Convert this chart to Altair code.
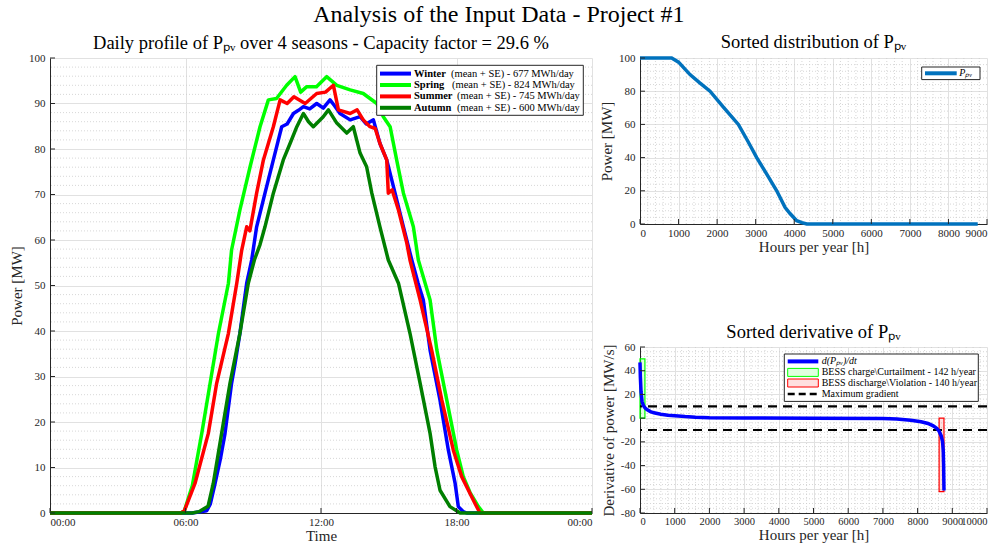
import altair as alt
import pandas as pd

SERIF = "Liberation Serif"
INK = "#262626"
GRID = "#e1e1e1"
MINOR = "#cdcdcd"

# ---------------- data ----------------
seasons = ["Winter", "Spring", "Summer", "Autumn"]
season_colors = ["#0000ff", "#00ff00", "#ff0000", "#007f00"]
season_energy = [677, 824, 745, 600]

winter_t = [0, 6.3, 6.94, 7.1, 7.31, 7.55, 7.75, 8.04, 8.2, 8.41, 8.71, 8.93, 9.15, 9.52, 9.89, 10.26, 10.5,
            10.78, 11.0, 11.22, 11.5, 11.81, 12.1, 12.4, 12.6, 12.84, 13.29, 13.73, 14.0, 14.32, 14.61, 14.91,
            15.28, 15.65, 16.02, 16.3, 16.53, 16.83, 17.27, 17.64, 17.94, 18.08, 18.3, 18.45, 24]
winter_p = [0, 0, 0.5, 2, 6.5, 12, 17.5, 28.5, 33, 39.5, 50.5, 55.6, 62.9, 70.3, 77.6, 84.9, 85.5,
            87.8, 88.5, 89.3, 88.8, 90, 89, 90.8, 89.5, 87.8, 86.4, 87.1, 85.5, 86.4, 81.2, 77.6,
            70.3, 62.9, 55.6, 50.5, 46.8, 35.8, 24.8, 13.8, 6.5, 1.4, 0.3, 0, 0]

spring_t = [0, 5.8, 5.95, 6.3, 6.72, 7.09, 7.46, 7.9, 8.04, 8.41, 8.86, 9.3, 9.67, 10.03, 10.48, 10.85, 11.1,
            11.37, 11.8, 12.25, 12.7, 13.29, 13.87, 14.47, 14.76, 15.06, 15.35, 15.65, 16.09, 16.31, 16.83,
            17.13, 17.57, 18.01, 18.3, 18.6, 18.97, 19.19, 24]
spring_p = [0, 0, 0.5, 6, 17.5, 28.5, 39.5, 50.5, 57.8, 66.6, 76.1, 84.9, 90.8, 91.1, 94, 95.9, 92.5,
            93.7, 93.7, 95.9, 94, 93, 92.2, 90, 87.1, 84.9, 77.6, 70.3, 62.9, 55.6, 46.8,
            35.8, 24.8, 13.8, 8, 4.5, 1.4, 0, 0]

summer_t = [0, 5.8, 5.95, 6.42, 7.01, 7.38, 7.9, 8.27, 8.49, 8.71, 8.85, 9.15, 9.45, 9.89, 10.19, 10.5, 10.8,
            11.3, 11.81, 12.2, 12.55, 12.77, 13.29, 13.6, 13.87, 14.17, 14.4, 14.61, 14.91, 14.98, 15.15,
            15.43, 15.8, 15.94, 16.39, 16.9, 17.35, 17.86, 18.23, 18.82, 19.04, 24]
summer_p = [0, 0, 0.5, 6.5, 17.5, 28.5, 39.5, 50.5, 57.8, 62.9, 62, 70.3, 77.6, 84.9, 90.8, 90, 91.5,
            90, 92.2, 92.5, 94, 88.6, 87.8, 88.6, 86.4, 84.9, 84.5, 81.2, 77.6, 70.3, 71,
            66.6, 59.3, 55.6, 46.8, 35.8, 24.8, 13.8, 8, 2.1, 0, 0]

autumn_t = [0, 6.3, 6.6, 7.0, 7.23, 7.6, 7.97, 8.41, 8.78, 9.05, 9.3, 9.52, 9.89, 10.33, 10.63, 10.93, 11.22,
            11.45, 11.66, 12.1, 12.33, 12.7, 13.14, 13.43, 13.73, 14.02, 14.25, 14.61, 14.98, 15.43, 15.94,
            16.39, 16.83, 17.05, 17.27, 17.71, 18.16, 24]
autumn_p = [0, 0, 0.3, 1.5, 6.5, 17.5, 28.5, 39.5, 50.5, 55.6, 59, 62.9, 70.3, 77.6, 81.2, 84.9, 87.8,
            86, 84.9, 87.1, 88.6, 85.7, 83.5, 84.9, 79.1, 76.1, 70.3, 62.9, 55.6, 50.5, 39.5,
            28.5, 17.5, 10.2, 5, 1.4, 0, 0]

sorted_h = [0, 821, 1000, 1297, 1550, 1816, 2179, 2551, 2794, 3027, 3287, 3546, 3761, 3891, 4064, 4200,
            4324, 4500, 8760]
sorted_p = [100, 100, 97.5, 90, 85, 80, 70, 60, 50, 40, 30, 20, 10, 6.3, 2, 0.8, 0, 0, 0]

deriv_h = [0, 10, 30, 60, 100, 150, 200, 300, 400, 600, 800, 1000, 1300, 1600, 2000, 3000, 5000, 7000,
           7400, 7800, 8100, 8300, 8450, 8550, 8620, 8680, 8720, 8740, 8750, 8760]
deriv_v = [47, 35, 22, 14, 10.5, 8.5, 7.2, 5.5, 4.5, 3.3, 2.5, 2.0, 1.3, 0.8, 0.4, 0.1, 0, -0.3,
           -0.8, -1.8, -3, -4.5, -6.5, -8.5, -11, -15, -20, -28, -40, -61]

bess_names = ["charge", "discharge"]
bess_h0 = [0, 8620]
bess_h1 = [142, 8760]
bess_v0 = [0, -62]
bess_v1 = [50, 0]
bess_hours = [142, 140]
max_gradient = [10, -10]

# ---------------- helpers ----------------
one = pd.DataFrame({"k": [0]})
PLAIN = "'' + datum.value"


def box(x1, x2, y1, y2):
    return alt.Chart(one).mark_rect(fill="white", stroke=INK, strokeWidth=1).encode(
        x=alt.value(x1), x2=alt.value(x2), y=alt.value(y1), y2=alt.value(y2))


def seg(x1, x2, y, color, width=4.0, dash=None):
    kw = {"strokeDash": dash} if dash else {}
    return alt.Chart(one).mark_rule(color=color, strokeWidth=width, **kw).encode(
        x=alt.value(x1), x2=alt.value(x2), y=alt.value(y))


def swatch(x1, x2, y1, y2, stroke, fill):
    return alt.Chart(one).mark_rect(fill=fill, fillOpacity=0.12, stroke=stroke, strokeWidth=1).encode(
        x=alt.value(x1), x2=alt.value(x2), y=alt.value(y1), y2=alt.value(y2))


def txt(x, y, s, size=10.5, weight="normal", style="normal"):
    return alt.Chart(one).mark_text(align="left", baseline="middle", font=SERIF, fontSize=size,
                                    fontWeight=weight, fontStyle=style, color="black").encode(
        x=alt.value(x), y=alt.value(y), text=alt.value(s))


def minor_rules(vals, ch, scale, axis):
    df = pd.DataFrame({"v": vals})
    m = alt.Chart(df).mark_rule(color=MINOR, strokeWidth=0.8, strokeDash=[1, 2])
    if ch == "x":
        return m.encode(x=alt.X("v:Q", scale=scale, axis=axis))
    return m.encode(y=alt.Y("v:Q", scale=scale, axis=axis))


def in_ticks(vals, ch, scale, axis, h, L=5):
    df = pd.DataFrame({"v": vals})
    m = alt.Chart(df).mark_rule(color=INK, strokeWidth=1)
    if ch == "x":
        return m.encode(x=alt.X("v:Q", scale=scale, axis=axis), y=alt.value(h), y2=alt.value(h - L))
    return m.encode(y=alt.Y("v:Q", scale=scale, axis=axis), x=alt.value(0), x2=alt.value(L))


PPV = "Pₚᵥ"
SUB = 18.5

# ---------------- left: daily profile ----------------
LW, LH = 542, 455
rows = []
for name, ts, ps in [("Winter", winter_t, winter_p), ("Spring", spring_t, spring_p),
                     ("Summer", summer_t, summer_p), ("Autumn", autumn_t, autumn_p)]:
    for t, p in zip(ts, ps):
        rows.append({"season": name, "t": t, "P": p})
prof = pd.DataFrame(rows)

xs_l = alt.Scale(domain=[0, 24], nice=False, zero=False)
ys_l = alt.Scale(domain=[0, 100], nice=False)
ax_lx = alt.Axis(values=[0, 6, 12, 18, 24], title="Time", titleFontSize=15,
                 labelExpr="datum.value == 24 ? '00:00' : ((datum.value < 10 ? '0' : '') + datum.value + ':00')")
ax_ly = alt.Axis(values=list(range(0, 101, 10)), title="Power [MW]", titleFontSize=15, labelExpr=PLAIN)

lines_l = alt.Chart(prof).mark_line(strokeWidth=3.5, strokeJoin="round").encode(
    x=alt.X("t:Q", scale=xs_l, axis=ax_lx),
    y=alt.Y("P:Q", scale=ys_l, axis=ax_ly),
    color=alt.Color("season:N", scale=alt.Scale(domain=seasons, range=season_colors), legend=None),
)

leg_l = [box(326.7, 533.3, 7.3, 57.3)]
row_y = [15.6, 27.0, 38.4, 49.8]
rest_x = [401, 402, 407, 407]
for i, (s, c, e) in enumerate(zip(seasons, season_colors, season_energy)):
    leg_l.append(seg(330, 361, row_y[i], c, 4))
    leg_l.append(txt(364, row_y[i], s, weight="bold"))
    leg_l.append(txt(rest_x[i], row_y[i], f"(mean + SE) - {e} MWh/day"))

left = alt.layer(
    minor_rules([v for v in range(2, 100, 2) if v % 10], "y", ys_l, ax_ly),
    lines_l,
    in_ticks([0, 6, 12, 18, 24], "x", xs_l, ax_lx, LH),
    in_ticks(list(range(0, 101, 10)), "y", ys_l, ax_ly, LH),
    *leg_l,
).properties(width=LW, height=LH,
             title=alt.TitleParams(f"Daily profile of {PPV} over 4 seasons - Capacity factor = 29.6 %",
                                   fontSize=SUB, offset=0))

# ---------------- top right: sorted distribution ----------------
RW, RH = 347, 166
sdf = pd.DataFrame({"h": sorted_h, "P": sorted_p})
xs_t = alt.Scale(domain=[0, 9000], nice=False)
ys_t = alt.Scale(domain=[0, 100], nice=False)
ax_tx = alt.Axis(values=list(range(0, 9001, 1000)), title="Hours per year [h]", titleFontSize=15, labelExpr=PLAIN)
ax_ty = alt.Axis(values=list(range(0, 101, 20)), title="Power [MW]", titleFontSize=15, labelExpr=PLAIN)
line_t = alt.Chart(sdf).mark_line(color="#0072bd", strokeWidth=3.5).encode(
    x=alt.X("h:Q", scale=xs_t, axis=ax_tx),
    y=alt.Y("P:Q", scale=ys_t, axis=ax_ty),
)
top = alt.layer(
    minor_rules([v for v in range(200, 9000, 200) if v % 1000], "x", xs_t, ax_tx),
    minor_rules([v for v in range(4, 100, 4) if v % 20], "y", ys_t, ax_ty),
    line_t,
    in_ticks(list(range(0, 9001, 1000)), "x", xs_t, ax_tx, RH),
    in_ticks(list(range(0, 101, 20)), "y", ys_t, ax_ty, RH),
    box(281.7, 340, 9, 21.6),
    seg(285, 316.7, 15.3, "#0072bd", 4),
    txt(319.3, 15.3, PPV, size=10, style="italic"),
).properties(width=RW, height=RH,
             title=alt.TitleParams(f"Sorted distribution of {PPV}", fontSize=SUB, offset=0))

# ---------------- bottom right: sorted derivative ----------------
ddf = pd.DataFrame({"h": deriv_h, "v": deriv_v})
rdf = pd.DataFrame({"name": bess_names, "h0": bess_h0, "h1": bess_h1, "v0": bess_v0, "v1": bess_v1})
gdf = pd.DataFrame({"g": max_gradient})
xs_b = alt.Scale(domain=[0, 10000], nice=False)
ys_b = alt.Scale(domain=[-80, 60], nice=False)
ax_bx = alt.Axis(values=list(range(0, 10001, 1000)), title="Hours per year [h]", titleFontSize=15,
                 labelExpr=PLAIN, labelFontSize=10.5)
ax_by = alt.Axis(values=list(range(-80, 61, 20)), title="Derivative of power [MW/s]", titleFontSize=15,
                 labelExpr=PLAIN)

line_b = alt.Chart(ddf).mark_line(color="#0000ff", strokeWidth=3.5).encode(
    x=alt.X("h:Q", scale=xs_b, axis=ax_bx),
    y=alt.Y("v:Q", scale=ys_b, axis=ax_by),
)
rects_b = alt.Chart(rdf).mark_rect(strokeWidth=1.2, fillOpacity=0.12).encode(
    x=alt.X("h0:Q", scale=xs_b, axis=ax_bx), x2="h1:Q",
    y=alt.Y("v0:Q", scale=ys_b, axis=ax_by), y2="v1:Q",
    stroke=alt.Stroke("name:N", scale=alt.Scale(domain=bess_names, range=["#00ff00", "#ff0000"]), legend=None),
    fill=alt.Fill("name:N", scale=alt.Scale(domain=bess_names, range=["#00ff00", "#ff0000"]), legend=None),
)
dash_b = alt.Chart(gdf).mark_rule(color="black", strokeWidth=2.2, strokeDash=[9, 6]).encode(
    y=alt.Y("g:Q", scale=ys_b, axis=ax_by))

bottom = alt.layer(
    minor_rules([v for v in range(200, 10000, 200) if v % 1000], "x", xs_b, ax_bx),
    minor_rules([v for v in range(-76, 60, 4) if v % 20], "y", ys_b, ax_by),
    rects_b,
    dash_b,
    line_b,
    in_ticks(list(range(0, 10001, 1000)), "x", xs_b, ax_bx, RH),
    in_ticks(list(range(-80, 61, 20)), "y", ys_b, ax_by, RH),
    box(144.3, 338.3, 7, 54.4),
    seg(147.7, 178.3, 14.4, "#0000ff", 4),
    txt(181.7, 14.4, f"d({PPV})/dt", size=10, style="italic"),
    swatch(147.7, 178.3, 21.4, 29.4, "#00ff00", "#00ff00"),
    txt(181.7, 25.4, f"BESS charge\\Curtailment - {bess_hours[0]} h/year", size=10),
    swatch(147.7, 178.3, 32, 40, "#ff0000", "#ff0000"),
    txt(181.7, 36, f"BESS discharge\\Violation - {bess_hours[1]} h/year", size=10),
    seg(147.7, 178.3, 47, "black", 2.5, [7, 4]),
    txt(181.7, 47, "Maximum gradient", size=10),
).properties(width=RW, height=RH,
             title=alt.TitleParams(f"Sorted derivative of {PPV}", fontSize=SUB, offset=0))

right = alt.vconcat(top, bottom, spacing=123, bounds="flush")

chart = alt.hconcat(left, right, spacing=48, bounds="flush").properties(
    title=alt.TitleParams("Analysis of the Input Data - Project #1", fontSize=24, anchor="middle", offset=6),
    padding={"left": 9, "top": 2, "right": 5, "bottom": 5},
    background="white",
).configure_view(stroke=None).configure_axis(
    labelFont=SERIF, labelFontSize=11, labelColor=INK, titleFont=SERIF, titleFontWeight="normal",
    titleColor=INK, domainColor=INK, ticks=False, gridColor=GRID, grid=True, labelOverlap=False,
).configure_axisX(labelPadding=3, titlePadding=1).configure_axisY(labelPadding=5, titlePadding=4
).configure_title(font=SERIF, fontWeight="normal", color="black")

chart.save("out.html", embed_options={"renderer": "svg", "actions": False})
